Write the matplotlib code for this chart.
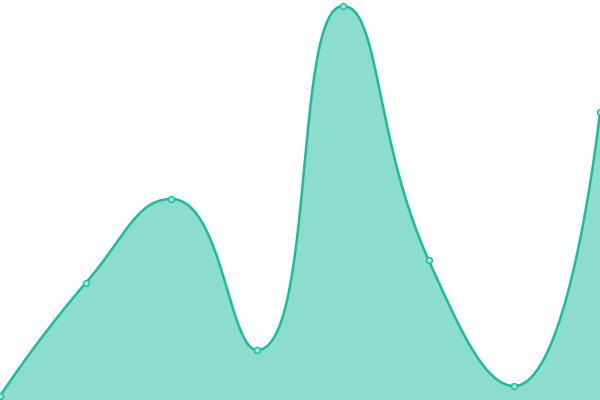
import numpy as np
import matplotlib.pyplot as plt

# values (pixel height above the bottom edge)
categories = ["A", "B", "C", "D", "E", "F", "G", "H"]
values = [4, 117, 201, 50, 394, 140, 14, 288]

line_color = "#1abc9c"
smooth = 0.5


def smooth_path(px, py, smooth):
    # bezier smoothing in the style of echarts' smooth line
    n = len(px)
    segs = []
    cp0 = (px[0], py[0])
    for i in range(1, n):
        x, y = px[i], py[i]
        prev_x, prev_y = px[i - 1], py[i - 1]
        if i == n - 1:
            cp1 = (x, y)
            next_cp0 = None
        else:
            nx, ny = px[i + 1], py[i + 1]
            vx, vy = nx - prev_x, ny - prev_y
            dx0, dy0 = x - prev_x, y - prev_y
            dx1, dy1 = nx - x, ny - y
            len_prev = np.hypot(dx0, dy0)
            len_next = np.hypot(dx1, dy1)
            ratio = len_next / (len_next + len_prev)
            cp1x = x - vx * smooth * (1 - ratio)
            cp1y = y - vy * smooth * (1 - ratio)
            ncx = x + vx * smooth * ratio
            ncy = y + vy * smooth * ratio
            ncx = min(ncx, max(nx, x)); ncx = max(ncx, min(nx, x))
            ncy = min(ncy, max(ny, y)); ncy = max(ncy, min(ny, y))
            vx, vy = ncx - x, ncy - y
            cp1x = x - vx * len_prev / len_next
            cp1y = y - vy * len_prev / len_next
            cp1x = min(cp1x, max(prev_x, x)); cp1x = max(cp1x, min(prev_x, x))
            cp1y = min(cp1y, max(prev_y, y)); cp1y = max(cp1y, min(prev_y, y))
            vx, vy = x - cp1x, y - cp1y
            ncx = x + vx * len_next / len_prev
            ncy = y + vy * len_next / len_prev
            cp1 = (cp1x, cp1y)
            next_cp0 = (ncx, ncy)
        segs.append(((prev_x, prev_y), cp0, cp1, (x, y)))
        cp0 = next_cp0
    t = np.linspace(0, 1, 60)[:, None]
    pts = []
    for p0, c0, c1, p1 in segs:
        p0, c0, c1, p1 = map(np.array, (p0, c0, c1, p1))
        b = ((1 - t) ** 3) * p0 + 3 * ((1 - t) ** 2) * t * c0 + 3 * (1 - t) * t ** 2 * c1 + t ** 3 * p1
        pts.append(b)
    pts = np.vstack(pts)
    return pts[:, 0], pts[:, 1]


xs = np.arange(len(categories)) * 600 / (len(categories) - 1)
ys = np.array(values, dtype=float)
cx, cy = smooth_path(xs, ys, smooth)

fig = plt.figure(figsize=(6, 4), dpi=100)
ax = fig.add_axes([0, 0, 1, 1])
ax.fill_between(cx, cy, 0, color=line_color, alpha=0.5, linewidth=0)
ax.plot(cx, cy, color=line_color, linewidth=1.8, solid_capstyle="round")
ax.scatter(xs, ys, s=18, facecolor="#a6e6da", edgecolor=line_color, linewidth=1, zorder=3)
ax.set_xlim(0, 600)
ax.set_ylim(0, 400)
ax.axis("off")
fig.savefig("out.png")
